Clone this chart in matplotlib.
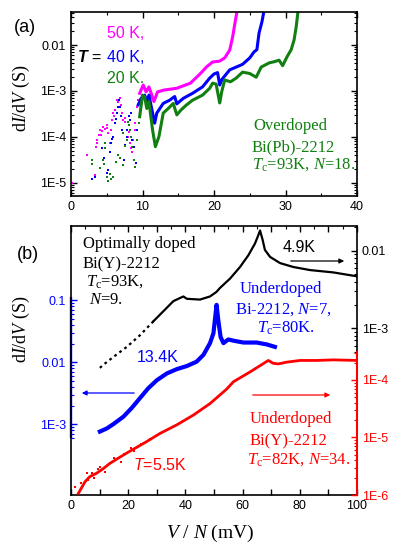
import numpy as np
import matplotlib
matplotlib.use("Agg")
import matplotlib.pyplot as plt
from matplotlib.ticker import FixedLocator, FixedFormatter, NullFormatter

plt.rcParams['font.family'] = ['Liberation Sans', 'DejaVu Sans']
plt.rcParams['mathtext.fontset'] = 'custom'
plt.rcParams['mathtext.rm'] = 'Liberation Serif'
plt.rcParams['mathtext.it'] = 'Liberation Serif:italic'
plt.rcParams['mathtext.bf'] = 'Liberation Sans:bold:italic'
plt.rcParams['mathtext.sf'] = 'Liberation Sans:italic'

# ---------------- Panel (a) data: x = V/N (mV), y = log10(dI/dV) ----------------
mag_line_x = [9.6, 10.1, 10.5, 10.9, 11.6, 12.1, 13.0, 14.8, 16.7, 18.1, 19.0, 19.8,
              20.8, 21.5, 22.2, 22.6, 23.0, 23.3]
mag_line_y = [-3.05, -2.87, -3.02, -2.91, -3.23, -3.02, -2.98, -2.94, -2.83, -2.62,
              -2.47, -2.37, -2.35, -2.28, -2.11, -1.83, -1.46, -1.20]
mag_dot_x = [0.1, 2.2, 3.3, 3.5, 3.6, 3.7, 3.9, 4.0, 4.2, 4.4, 4.5, 4.7, 5.0, 5.1, 5.2,
             5.4, 5.6, 5.7, 5.9, 6.0, 6.2, 6.4, 6.6, 6.8, 7.0, 7.1, 7.3, 7.5, 7.6, 7.8,
             8.0, 8.1, 8.2, 8.4, 8.5, 8.7, 8.9, 9.0, 9.2, 9.4]
mag_dot_y = [-5.0, -4.39, -4.83, -4.22, -4.12, -4.07, -3.95, -3.85, -3.95, -3.88, -3.78,
             -3.82, -3.74, -3.80, -3.92, -4.14, -3.85, -3.62, -3.48, -3.55, -3.41, -3.20,
             -3.25, -3.16, -3.30, -3.48, -3.63, -3.58, -3.67, -3.85, -3.99, -3.90, -4.14,
             -4.25, -4.32, -4.07, -3.85, -3.70, -3.34, -3.20]

blu_line_x = [9.4, 9.8, 10.3, 10.6, 10.9, 11.7, 12.0, 12.9, 13.8, 14.5, 14.8, 15.7, 17.0,
              18.4, 19.4, 20.0, 20.5, 20.8, 21.1, 22.2, 23.1, 24.0, 25.0, 25.6, 26.0,
              26.3, 26.7, 27.0]
blu_line_y = [-3.30, -3.16, -3.09, -3.23, -3.09, -3.70, -3.48, -3.27, -3.20, -3.12, -3.28,
              -3.16, -3.05, -2.91, -2.72, -2.63, -2.60, -2.87, -2.75, -2.54, -2.48, -2.42,
              -2.28, -2.15, -2.10, -1.74, -1.50, -1.25]
blu_dot_x = [2.9, 3.3, 4.3, 4.6, 5.0, 5.2, 5.4, 5.6, 5.8, 5.9, 6.1, 6.3, 6.4, 6.6, 6.7,
             6.9, 7.0, 7.2, 7.4, 7.6, 7.8, 7.9, 8.1, 8.3, 8.4, 8.6, 8.8, 9.1, 9.3]
blu_dot_y = [-4.91, -4.86, -4.25, -4.45, -4.79, -4.72, -4.32, -4.14, -4.05, -4.00, -3.70,
             -3.60, -3.48, -3.34, -3.20, -3.35, -3.55, -3.85, -4.50, -4.17, -4.00, -3.85,
             -3.55, -3.62, -3.48, -4.07, -4.21, -4.57, -3.85]

grn_line_x = [9.6, 10.0, 10.3, 10.6, 10.9, 11.4, 11.8, 12.3, 12.9, 13.6, 14.3, 14.8, 15.4,
              16.1, 17.0, 18.4, 19.4, 19.8, 20.3, 20.6, 20.8, 21.1, 21.5, 22.3, 23.1,
              24.0, 25.0, 25.9, 26.6, 27.7, 28.5, 29.1, 29.6, 30.2, 30.8, 31.2, 31.5, 31.8]
grn_line_y = [-3.56, -3.09, -3.13, -3.38, -3.23, -3.84, -4.21, -3.99, -3.48, -3.38, -3.27,
              -3.52, -3.41, -3.31, -3.20, -3.09, -2.94, -2.83, -2.85, -3.10, -3.26, -3.00,
              -2.76, -2.80, -2.72, -2.59, -2.62, -2.70, -2.48, -2.39, -2.36, -2.33, -2.45,
              -2.26, -2.10, -1.89, -1.60, -1.20]
grn_dot_x = [2.9, 2.9, 4.0, 4.5, 4.6, 4.7, 4.8, 5.0, 5.2, 5.4, 5.6, 5.9, 6.3, 6.6, 6.9,
             7.3, 7.3, 7.5, 7.8, 8.0, 8.1, 8.2, 8.4, 8.6, 8.8, 9.0, 9.3, 9.5]
grn_dot_y = [-4.50, -4.58, -4.67, -4.50, -4.59, -4.14, -4.25, -4.86, -4.96, -4.80, -4.91,
             -4.86, -4.55, -4.39, -4.45, -4.61, -3.91, -4.20, -4.07, -3.67, -3.75, -3.85,
             -4.00, -4.21, -4.50, -4.65, -4.07, -3.70]

# ---------------- Panel (b) data ----------------
# black: optimally doped Bi(Y)-2212, 4.9 K (right black axis)
blk_x = [10.1, 11.3, 14.8, 19.5, 24.1, 28.8, 32.3, 35.8, 38.1, 39.3, 40.5, 45.1, 48.6,
         50.9, 52.1, 55.6, 59.1, 62.0, 64.3, 65.5, 66.1, 67.0, 67.8, 69.6, 73.1, 77.7,
         83.6, 91.7, 99.9]
blk_y = [-3.51, -3.47, -3.37, -3.24, -3.09, -2.91, -2.78, -2.65, -2.61, -2.59, -2.62,
         -2.63, -2.59, -2.53, -2.48, -2.36, -2.21, -2.06, -1.91, -1.80, -1.74, -1.86,
         -1.99, -2.08, -2.16, -2.21, -2.25, -2.28, -2.33]
# blue: underdoped Bi-2212, 13.4 K (left blue axis)
bl2_x = [10.1, 12.5, 14.8, 18.3, 21.2, 24.1, 27.0, 30.0, 33.5, 37.0, 40.5, 43.9, 46.3,
         48.6, 49.8, 50.9, 51.5, 52.3, 53.3, 55.0, 56.8, 60.3, 64.9, 68.4, 71.3]
bl2_y = [-3.12, -3.07, -3.00, -2.88, -2.74, -2.58, -2.42, -2.29, -2.18, -2.11, -2.06,
         -1.99, -1.88, -1.69, -1.53, -1.07, -1.32, -1.59, -1.69, -1.63, -1.65, -1.68,
         -1.68, -1.71, -1.75]
# red: underdoped Bi(Y)-2212, 5.5 K (right red axis)
red_x = [2.6, 4.9, 6.6, 9.0, 11.3, 13.6, 16.5, 19.5, 23.0, 26.5, 31.1, 37.0, 42.8, 48.6,
         54.4, 56.8, 62.6, 69.0, 70.7, 72.5, 75.4, 80.1, 85.9, 91.7, 99.9]
red_y = [-5.97, -5.77, -5.68, -5.62, -5.54, -5.45, -5.36, -5.27, -5.17, -5.07, -4.93,
         -4.78, -4.61, -4.41, -4.16, -4.03, -3.86, -3.66, -3.71, -3.72, -3.69, -3.66,
         -3.66, -3.65, -3.66]
red_dot_x = [1.4, 3.5, 4.2, 5.5, 6.0, 7.2, 8.0, 9.5, 10.2, 12.0, 13.0, 15.0, 17.5, 18.5,
             21.0, 22.0, 24.5, 27.5]
red_dot_y = [-5.86, -5.80, -5.85, -5.62, -5.74, -5.61, -5.70, -5.55, -5.52, -5.60, -5.47,
             -5.35, -5.42, -5.28, -5.18, -5.24, -5.12, -5.02]

W, H = 398, 552
fig = plt.figure(figsize=(W / 100, H / 100), dpi=100)


def fx(px):
    return px / W


def fy(py):
    return 1 - py / H


MAG, BLU, GRN, RED = '#ff00ff', '#0000ff', '#118011', '#ff0000'

# ---------------- Panel (a) ----------------
ax1 = fig.add_axes([fx(71), fy(196), fx(357) - fx(71), fy(12.3) - fy(196)])
ax1.set_yscale('log')
ax1.set_xlim(0, 40)
ax1.set_ylim(10 ** -5.283, 10 ** -1.289)
for lx, ly, dx, dy, c in [(mag_line_x, mag_line_y, mag_dot_x, mag_dot_y, MAG),
                          (blu_line_x, blu_line_y, blu_dot_x, blu_dot_y, BLU),
                          (grn_line_x, grn_line_y, grn_dot_x, grn_dot_y, GRN)]:
    ax1.plot(lx, 10 ** np.array(ly), color=c, lw=2.2, solid_joinstyle='round')
    ax1.plot(dx, 10 ** np.array(dy), ls='none', marker='s', ms=1.8, color=c, mew=0)
ax1.xaxis.set_major_locator(FixedLocator([0, 10, 20, 30, 40]))
ax1.xaxis.set_minor_locator(FixedLocator([5, 15, 25, 35]))
ax1.yaxis.set_major_locator(FixedLocator([1e-5, 1e-4, 1e-3, 1e-2]))
ax1.yaxis.set_major_formatter(FixedFormatter(['1E-5', '1E-4', '1E-3', '0.01']))
mn = [m * 10.0 ** e for e in range(-6, -1) for m in range(2, 10)]
ax1.yaxis.set_minor_locator(FixedLocator(mn))
ax1.yaxis.set_minor_formatter(NullFormatter())
ax1.tick_params(which='both', direction='in', top=True, right=True, labelsize=9)
ax1.tick_params(which='major', length=4.5, width=1)
ax1.tick_params(which='minor', length=2.5, width=0.8)
for s in ax1.spines.values():
    s.set_linewidth(1.2)

# ---------------- Panel (b) ----------------
rect = [fx(71), fy(495), fx(357) - fx(71), fy(226) - fy(495)]
ax2 = fig.add_axes(rect)
ax2.set_yscale('log')
ax2.set_xlim(0, 100)
ax2.set_ylim(10 ** -4.146, 10 ** 0.205)
ax3 = ax2.twinx()
ax3.set_yscale('log')
ax3.set_ylim(10 ** -5.148, 10 ** -1.682)
ax4 = ax2.twinx()
ax4.set_yscale('log')
ax4.set_ylim(1e-6, 10 ** -1.322)

# black curve: dotted start, solid later
bx = np.array(blk_x)
by = 10 ** np.array(blk_y)
ax3.plot(bx[:6], by[:6], color='black', lw=1.6, ls=(0, (1.2, 1.6)))
ax3.plot(bx[5:], by[5:], color='black', lw=1.6)
ax2.plot(bl2_x, 10 ** np.array(bl2_y), color=BLU, lw=3.0, solid_joinstyle='round')
ax4.plot(red_x, 10 ** np.array(red_y), color=RED, lw=2.0)
ax4.plot(red_dot_x, 10 ** np.array(red_dot_y), ls='none', marker='s', ms=1.6, color=RED, mew=0)

ax2.xaxis.set_major_locator(FixedLocator(list(range(0, 101, 10))))
ax2.xaxis.set_major_formatter(FixedFormatter(['0', '', '20', '', '40', '', '60', '', '80', '', '100']))
ax2.xaxis.set_minor_locator(FixedLocator(list(range(5, 100, 10))))
ax2.tick_params(axis='x', which='major', direction='in', top=True, bottom=True,
                length=4.5, width=1, labelsize=9)
ax2.tick_params(axis='x', which='minor', direction='in', top=True, bottom=False,
                length=2.5, width=0.8)

# left blue axis
ax2.yaxis.set_major_locator(FixedLocator([1e-3, 1e-2, 1e-1]))
ax2.yaxis.set_major_formatter(FixedFormatter(['1E-3', '0.01', '0.1']))
ax2.yaxis.set_minor_locator(FixedLocator([6e-4, 7e-4, 8e-4, 9e-4] +
                                         [m * 1e-3 for m in range(2, 10)] +
                                         [m * 1e-2 for m in range(2, 10)]))
ax2.yaxis.set_minor_formatter(NullFormatter())
ax2.tick_params(axis='y', which='both', direction='in', left=True, right=False,
                colors=BLU, labelsize=9)
ax2.tick_params(axis='y', which='major', length=4.5, width=1)
ax2.tick_params(axis='y', which='minor', length=2.5, width=0.8)
ax2.spines['right'].set_visible(False)
for s in ['left', 'top', 'bottom']:
    ax2.spines[s].set_linewidth(1.2)
ax2.plot([0, 0], [6e-4, 0.114], color=BLU, lw=1.7, transform=ax2.get_yaxis_transform(),
         clip_on=False, solid_capstyle='butt')

# right black axis
ax3.yaxis.set_major_locator(FixedLocator([1e-3, 1e-2]))
ax3.yaxis.set_major_formatter(FixedFormatter(['1E-3', '0.01']))
ax3.yaxis.set_minor_locator(FixedLocator([5e-4, 6e-4, 7e-4, 8e-4, 9e-4] +
                                         [m * 1e-3 for m in range(2, 10)] + [2e-2]))
ax3.yaxis.set_minor_formatter(NullFormatter())
ax3.tick_params(axis='y', which='both', direction='in', colors='black', labelsize=9)
ax3.tick_params(axis='y', which='major', length=4.5, width=1)
ax3.tick_params(axis='y', which='minor', length=2.5, width=0.8)
for s in ['left', 'top', 'bottom']:
    ax3.spines[s].set_visible(False)
ax3.spines['right'].set_bounds(10 ** -3.305, 10 ** -1.682)
ax3.spines['right'].set_linewidth(1.2)

# right red axis
ax4.yaxis.set_major_locator(FixedLocator([1e-6, 1e-5, 1e-4]))
ax4.yaxis.set_major_formatter(FixedFormatter(['1E-6', '1E-5', '1E-4']))
ax4.yaxis.set_minor_locator(FixedLocator([m * 1e-6 for m in range(2, 10)] +
                                         [m * 1e-5 for m in range(2, 10)] + [2e-4, 3e-4]))
ax4.yaxis.set_minor_formatter(NullFormatter())
ax4.tick_params(axis='y', which='both', direction='in', colors=RED, labelsize=9)
ax4.tick_params(axis='y', which='major', length=4.5, width=1)
ax4.tick_params(axis='y', which='minor', length=2.5, width=0.8)
for s in ['left', 'top', 'bottom']:
    ax4.spines[s].set_visible(False)
ax4.spines['right'].set_bounds(1e-6, 10 ** -3.513)
ax4.spines['right'].set_color(RED)
ax4.spines['right'].set_linewidth(1.5)

# ---------------- Texts ----------------
SERIF = ['Liberation Serif', 'DejaVu Serif']
SANS = ['Liberation Sans', 'DejaVu Sans']


def txt(px, py, s, color='black', size=12, family=SERIF, ha='left', va='baseline', **kw):
    fig.text(fx(px), fy(py), s, color=color, fontsize=size, family=family, ha=ha, va=va, **kw)


txt(25, 27, '(a)', size=13, family=SANS, ha='center', va='center')
txt(28, 255, '(b)', size=13, family=SANS, ha='center', va='center')

txt(21, 98, r'd$I$/d$V$ (S)', size=13, ha='center', va='center', rotation=90)
txt(21, 329, r'd$I$/d$V$ (S)', size=13, ha='center', va='center', rotation=90)
txt(210, 533, r'$V$ / $N$ (mV)', size=14, ha='center', va='center')

txt(77, 62, r'$\mathbf{T}$ =', size=11.5, family=SANS)
txt(107, 38, '50 K,', color=MAG, size=11.5, family=SANS)
txt(107, 62, '40 K,', color=BLU, size=11.5, family=SANS)
txt(107, 83, '20 K.', color=GRN, size=11.5, family=SANS)

txt(253, 130, 'Overdoped', color=GRN)
txt(252, 151, 'Bi(Pb)-2212', color=GRN)
txt(252, 169, r'$T_{\rm c}$=93K, $N$=18.', color=GRN)

txt(83, 248, 'Optimally doped')
txt(83, 268, 'Bi(Y)-2212')
txt(86, 286, r'$T_{\rm c}$=93K,')
txt(89, 304, r'$N$=9.')

txt(283, 252, '4.9K', size=11.5, family=SANS)
fig.add_artist(matplotlib.patches.FancyArrowPatch((fx(288), fy(261)), (fx(347), fy(261)),
               transform=fig.transFigure, arrowstyle='-|>', mutation_scale=7,
               color='black', lw=0.9))

txt(240, 293, 'Underdoped', color=BLU)
txt(235, 314, r'Bi-2212, $N$=7,', color=BLU)
txt(257, 333, r'$T_{\rm c}$=80K.', color=BLU)

txt(137, 362, '13.4K', color=BLU, size=11.5, family=SANS)
fig.add_artist(matplotlib.patches.FancyArrowPatch((fx(137), fy(393)), (fx(79), fy(393)),
               transform=fig.transFigure, arrowstyle='-|>', mutation_scale=7,
               color=BLU, lw=0.9))

txt(133, 470, r'$\mathsf{T}$=5.5K', color=RED, size=11.5, family=SANS)
fig.add_artist(matplotlib.patches.FancyArrowPatch((fx(250), fy(395)), (fx(333), fy(395)),
               transform=fig.transFigure, arrowstyle='-|>', mutation_scale=7,
               color=RED, lw=0.9))
txt(250, 423, 'Underdoped', color=RED)
txt(250, 445, 'Bi(Y)-2212', color=RED)
txt(247, 464, r'$T_{\rm c}$=82K, $N$=34.', color=RED)

fig.savefig('out.png', dpi=100)
